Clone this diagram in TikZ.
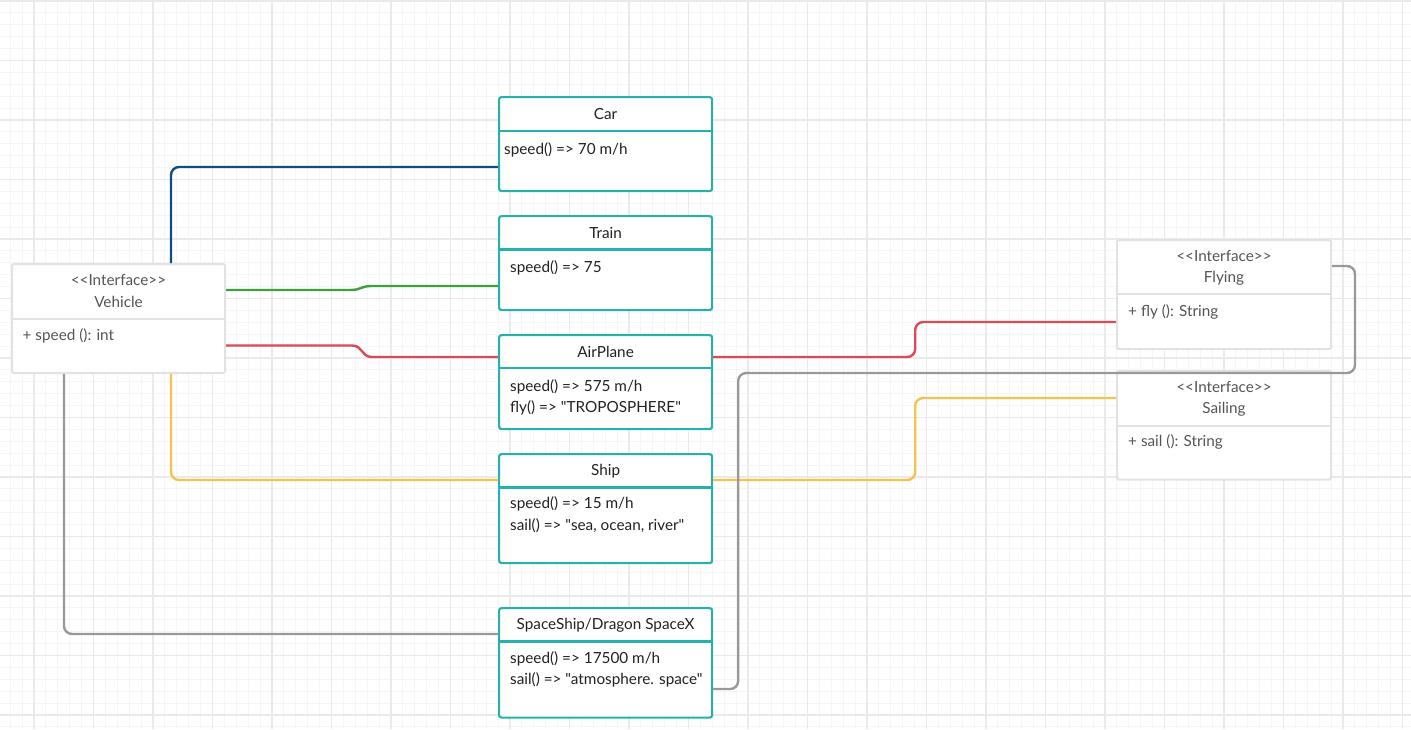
\documentclass[tikz,border=0pt]{standalone}
\usepackage{fontspec}
\setmainfont{Lato}[Ligatures=TeXOff]
\usetikzlibrary{calc}
\definecolor{tealc}{HTML}{26B2AC}
\definecolor{ifc}{HTML}{E2E2E2}
\definecolor{gmin}{HTML}{F5F5F5}
\definecolor{gmaj}{HTML}{EAEAEA}
\definecolor{cblue}{HTML}{0F4F7C}
\definecolor{cgreen}{HTML}{3E9E42}
\definecolor{cred}{HTML}{DC4957}
\definecolor{cyellow}{HTML}{F6C24F}
\definecolor{cgray}{HTML}{999999}
\definecolor{tdark}{HTML}{222222}
\definecolor{tgray}{HTML}{555555}
\begin{document}
\begin{tikzpicture}[x=1pt,y=-1pt,
  cls/.style={draw=tealc, line width=2.2pt, fill=white, rounded corners=2.5pt,
    minimum width=213pt, anchor=north west, inner sep=0pt},
  ifbox/.style={draw=ifc, line width=2pt, fill=white, rounded corners=1.5pt,
    minimum width=213pt, anchor=north west, inner sep=0pt},
  cdiv/.style={draw=tealc, line width=2.2pt},
  idiv/.style={draw=ifc, line width=2pt},
  ttl/.style={inner sep=0pt, text=tdark, font=\fontsize{15.3}{18}\selectfont},
  body/.style={inner sep=0pt, anchor=west, text=tdark, font=\fontsize{15.3}{18}\selectfont},
  ittl/.style={ttl, text=tgray},
  ibody/.style={body, text=tgray},
  conn/.style={line width=2.4pt, rounded corners=8pt},
  sconn/.style={line width=2.4pt},
  gminor/.style={draw=gmin, line width=1pt},
  gmajor/.style={draw=gmaj, line width=1.3pt}]
\useasboundingbox (0,0) rectangle (1411,729);
\fill[white] (0,0) rectangle (1411,729);
% grid
\foreach \i in {-3,...,116} \draw[gminor] ({34+11.9*\i},0) -- ({34+11.9*\i},729);
\foreach \j in {0,...,61} \draw[gminor] (0,{1+11.9*\j}) -- (1411,{1+11.9*\j});
\foreach \i in {-1,...,23} \draw[gmajor] ({34+59.5*\i},0) -- ({34+59.5*\i},729);
\foreach \j in {0,...,12} \draw[gmajor] (0,{1+59.5*\j}) -- (1411,{1+59.5*\j});

% class boxes
\node[cls, minimum height=94pt] (car) at (498,96) {};
\node[cls, minimum height=94pt] (train) at (498,215) {};
\node[cls, minimum height=94pt] (air) at (498,334) {};
\node[cls, minimum height=109pt] (ship) at (498,453) {};
\node[cls, minimum height=109.5pt] (space) at (498,607) {};
\node[ifbox, minimum height=109pt] (veh) at (11,263) {};
\node[ifbox, minimum height=109pt, minimum width=214pt] (fly) at (1116,239) {};
\node[ifbox, minimum height=108.5pt, minimum width=214pt] (sail) at (1116,370) {};

% dividers
\draw[cdiv] ($(car.north west)+(0,35)$) -- ($(car.north east)+(0,35)$);
\draw[cdiv] ($(train.north west)+(0,34.5)$) -- ($(train.north east)+(0,34.5)$);
\draw[cdiv] ($(air.north west)+(0,34)$) -- ($(air.north east)+(0,34)$);
\draw[cdiv] ($(ship.north west)+(0,34.5)$) -- ($(ship.north east)+(0,34.5)$);
\draw[cdiv] ($(space.north west)+(0,34.5)$) -- ($(space.north east)+(0,34.5)$);
\draw[idiv] ($(veh.north west)+(0,55.5)$) -- ($(veh.north east)+(0,55.5)$);
\draw[idiv] ($(fly.north west)+(0,55)$) -- ($(fly.north east)+(0,55)$);
\draw[idiv] ($(sail.north west)+(0,55.5)$) -- ($(sail.north east)+(0,55.5)$);

% texts
\node[ttl] (carT) at ($(car.north)+(0,18)$) {Car};
\node[body] (carB) at (504,150) {speed() => 70 m/h};
\node[ttl] (trainT) at ($(train.north)+(0,18)$) {Train};
\node[body] (trainB) at (510,268) {speed() => 75};
\node[ttl] (airT) at ($(air.north)+(0,18)$) {AirPlane};
\node[body] (airB1) at (510,386.5) {speed() => 575 m/h};
\node[body] (airB2) at (510,408) {fly() => "TROPOSPHERE"};
\node[ttl] (shipT) at ($(ship.north)+(0,18.5)$) {Ship};
\node[body] (shipB1) at (510,504) {speed() => 15 m/h};
\node[body] (shipB2) at (510,525.5) {sail() => "sea, ocean, river"};
\node[ttl] (spaceT) at ($(space.north)+(0,18.5)$) {SpaceShip/Dragon SpaceX};
\node[body] (spaceB1) at (510,659) {speed() => 17500 m/h};
\node[body] (spaceB2) at (510,680) {sail() => "atmosphere. space"};
\node[ittl] (vehS) at ($(veh.north)+(0,17)$) {<<Interface>>};
\node[ittl] (vehT) at ($(veh.north)+(0,38.5)$) {Vehicle};
\node[ibody] (vehB) at (22.5,336) {+ speed (): int};
\node[ittl] (flyS) at ($(fly.north)+(0,17)$) {<<Interface>>};
\node[ittl] (flyT) at ($(fly.north)+(0,39)$) {Flying};
\node[ibody] (flyB) at (1128,311.5) {+ fly (): String};
\node[ittl] (sailS) at ($(sail.north)+(0,16.5)$) {<<Interface>>};
\node[ittl] (sailT) at ($(sail.north)+(0,39)$) {Sailing};
\node[ibody] (sailB) at (1128,442) {+ sail (): String};

% connectors
\draw[conn, cblue] ($(veh.north west)+(160,0)$) |- ($(car.north west)+(0,71)$);
\draw[sconn, cgreen] ($(veh.north east)+(0,27)$) -- ++(124,0)
   .. controls ++(12,0) and ++(-12,0) .. ($(train.north west)+(-126,71)$)
   -- ($(train.north west)+(0,71)$);
\draw[sconn, cred] ($(veh.north east)+(0,82.5)$) -- ++(126,0)
   .. controls ++(11,0) and ++(-11,0) .. ($(air.north west)+(-126,23)$)
   -- ($(air.north west)+(0,23)$);
\draw[conn, cred] ($(air.north east)+(0,23)$) -- ++(202,0) |- ($(fly.north west)+(0,83)$);
\draw[conn, cyellow] ($(veh.south west)+(160,0)$) |- ($(ship.north west)+(0,27)$);
\draw[conn, cyellow] ($(ship.north east)+(0,27)$) -- ++(202,0) |- ($(sail.north west)+(0,28)$);
\draw[conn, cgray] ($(veh.south west)+(53,0)$) |- ($(space.north west)+(0,27)$);
\draw[conn, cgray] ($(space.north east)+(0,82)$) -- ++(25,0)
   |- ($(fly.north east)+(23,134)$) |- ($(fly.north east)+(0,27)$);
\end{tikzpicture}
\end{document}
